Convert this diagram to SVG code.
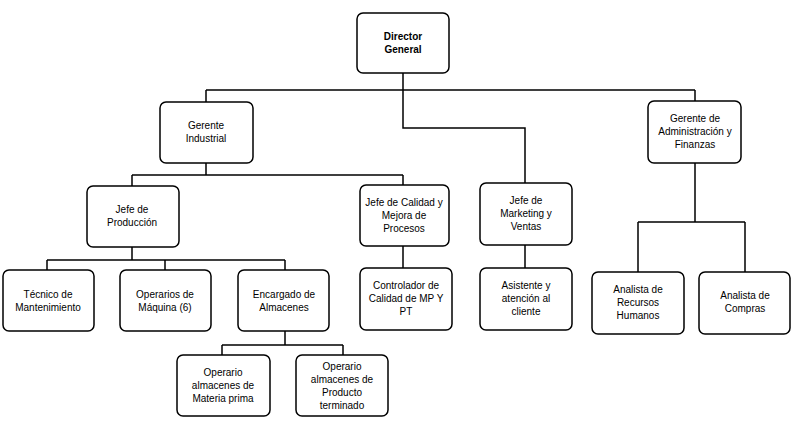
<svg xmlns="http://www.w3.org/2000/svg" width="800" height="435" viewBox="0 0 800 435">
<style>
rect{fill:#fff;stroke:#000;stroke-width:1.5}
text{font-family:"Liberation Sans",Arial,sans-serif;font-size:10px;text-anchor:middle;fill:#000}
.b{font-weight:bold}
#connectors path{fill:none;stroke:#000;stroke-width:1.5}
</style>
<rect x="0" y="0" width="800" height="435" style="stroke:none"/>
<g id="connectors">
<path d="M403 73V90M206 90H695M206 90V102M403 90V128H525V183M695 90V101"/>
<path d="M206 163V175M132 175H403M132 175V186M403 175V185"/>
<path d="M132 247V260M47 260H285M47 260V270M165 260V270M285 260V270"/>
<path d="M285 331V345M222 345H343M222 345V355M343 345V355"/>
<path d="M403 246V268M525 245V268"/>
<path d="M695 163V222M638 222H745M638 222V272M745 222V272"/>
</g>
<g id="director"><rect x="357" y="13" width="92" height="60" rx="6"/><text class="b" x="403" y="40">Director</text><text class="b" x="403" y="53">General</text></g>
<g id="gind"><rect x="160" y="102" width="93" height="61" rx="6"/><text x="206" y="129">Gerente</text><text x="206" y="142">Industrial</text></g>
<g id="gadm"><rect x="648" y="101" width="93" height="62" rx="6"/><text x="695" y="122">Gerente de</text><text x="695" y="135">Administración y</text><text x="695" y="148">Finanzas</text></g>
<g id="jprod"><rect x="87" y="186" width="92" height="61" rx="6"/><text x="132" y="213">Jefe de</text><text x="132" y="226">Producción</text></g>
<g id="jcal"><rect x="360" y="185" width="89" height="61" rx="6"/><text x="404" y="206">Jefe de Calidad y</text><text x="404" y="219">Mejora de</text><text x="404" y="232">Procesos</text></g>
<g id="jmkt"><rect x="480" y="183" width="92" height="62" rx="6"/><text x="526" y="204">Jefe de</text><text x="526" y="217">Marketing y</text><text x="526" y="230">Ventas</text></g>
<g id="tec"><rect x="3" y="270" width="91" height="61" rx="6"/><text x="48" y="298">Técnico de</text><text x="48" y="311">Mantenimiento</text></g>
<g id="ope"><rect x="120" y="270" width="91" height="61" rx="6"/><text x="165" y="298">Operarios de</text><text x="165" y="311">Máquina (6)</text></g>
<g id="enc"><rect x="238" y="270" width="91" height="61" rx="6"/><text x="284" y="298">Encargado de</text><text x="284" y="311">Almacenes</text></g>
<g id="ctrl"><rect x="360" y="268" width="92" height="62" rx="6"/><text x="406" y="289">Controlador de</text><text x="406" y="302">Calidad de MP Y</text><text x="406" y="315">PT</text></g>
<g id="asis"><rect x="480" y="268" width="92" height="62" rx="6"/><text x="526" y="289">Asistente y</text><text x="526" y="302">atención al</text><text x="526" y="315">cliente</text></g>
<g id="arh"><rect x="592" y="272" width="92" height="62" rx="6"/><text x="638" y="293">Analista de</text><text x="638" y="306">Recursos</text><text x="638" y="319">Humanos</text></g>
<g id="acom"><rect x="699" y="272" width="91" height="62" rx="6"/><text x="745" y="299">Analista de</text><text x="745" y="312">Compras</text></g>
<g id="omp"><rect x="177" y="355" width="93" height="61" rx="6"/><text x="223" y="376">Operario</text><text x="223" y="389">almacenes de</text><text x="223" y="402">Materia prima</text></g>
<g id="opt"><rect x="296" y="355" width="92" height="61" rx="6"/><text x="342" y="370">Operario</text><text x="342" y="383">almacenes de</text><text x="342" y="396">Producto</text><text x="342" y="409">terminado</text></g>
</svg>
